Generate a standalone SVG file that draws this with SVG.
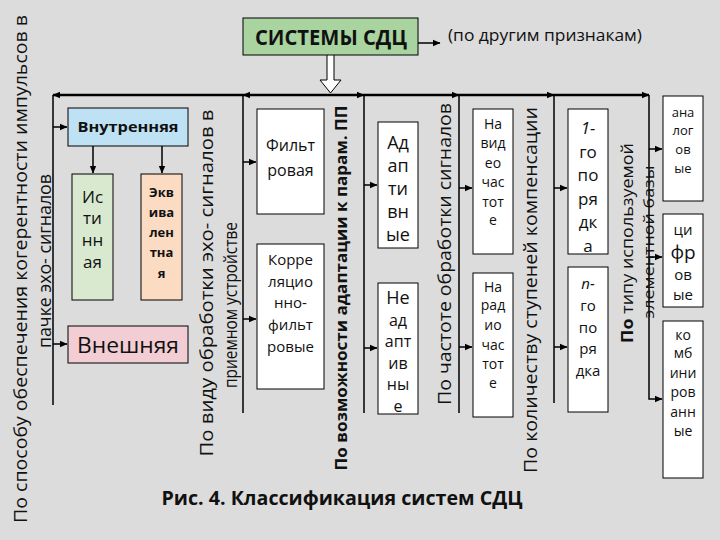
<svg xmlns="http://www.w3.org/2000/svg" width="720" height="540" viewBox="0 0 720 540">
<defs>
<marker id="ah" markerWidth="8" markerHeight="8" refX="7" refY="4" orient="auto" markerUnits="userSpaceOnUse">
<path d="M0,0.8 L7.5,4 L0,7.2 Z" fill="#000"/>
</marker>
<style>
.bx{stroke:#000;stroke-width:1}
.w{fill:#fff}
.t{font-family:"Open Sans","Noto Sans","DejaVu Sans",sans-serif;fill:#111;text-anchor:middle}
.b{font-weight:bold}
.lbl{font-family:"Open Sans","Noto Sans","DejaVu Sans",sans-serif;fill:#111;text-anchor:middle}
.ln{stroke:#000;stroke-width:1.5;fill:none}
.ar{stroke:#000;stroke-width:1.5;fill:none;marker-end:url(#ah)}
</style>
</defs>
<rect x="0" y="0" width="720" height="540" fill="#dcdcdc"/>

<g id="connectors">
<path d="M53 95 H649" stroke="#000" stroke-width="2.4" fill="none"/>
<path class="ar" d="M62 95 H53"/>
<path class="ar" d="M252 95 H243"/>
<path class="ar" d="M354 95 H364"/>
<path class="ar" d="M449 95 H459"/>
<path class="ar" d="M544 95 H554"/>
<path class="ar" d="M639 95 H649"/>
<path class="ln" d="M53 95 V405"/>
<path class="ln" d="M243 95 V413"/>
<path class="ln" d="M364 95 V413"/>
<path class="ln" d="M459 95 V413"/>
<path class="ln" d="M554 95 V403"/>
<path class="ar" d="M649 95 V399 H662"/>
<path class="ar" d="M53 127 H67"/>
<path class="ar" d="M53 344 H67"/>
<path class="ar" d="M93 146 V173"/>
<path class="ar" d="M162 146 V173"/>
<path class="ar" d="M243 162 H256"/>
<path class="ar" d="M243 319 H256"/>
<path class="ar" d="M364 185 H377"/>
<path class="ar" d="M364 348 H377"/>
<path class="ar" d="M459 188 H472"/>
<path class="ar" d="M459 347 H472"/>
<path class="ar" d="M554 188 H567"/>
<path class="ar" d="M554 347 H567"/>
<path class="ar" d="M649 149 H662"/>
<path class="ar" d="M649 257 H662"/>
<path class="ar" d="M418 43 H440"/>
<path d="M327 55 V80 H320 L330.5 93 L341 80 H334 V55" fill="#fff" stroke="#000" stroke-width="1"/>
</g>

<g id="title">
<rect class="bx" x="243" y="18" width="175" height="37" fill="#a9d4a0"/>
<text class="t b" x="331" y="45" font-size="22" textLength="152" lengthAdjust="spacingAndGlyphs">СИСТЕМЫ СДЦ</text>
</g>
<g id="other">
<text class="t" x="545" y="41" font-size="17" textLength="194" lengthAdjust="spacingAndGlyphs">(по другим признакам)</text>
</g>

<g id="label-coherence">
<text class="lbl" transform="translate(27,269) rotate(-90)" font-size="18" textLength="508" lengthAdjust="spacingAndGlyphs">По способу обеспечения когерентности импульсов в</text>
<text class="lbl" transform="translate(51,261) rotate(-90)" font-size="18" textLength="174" lengthAdjust="spacingAndGlyphs">пачке эхо- сигналов</text>
</g>
<g id="label-processing">
<text class="lbl" transform="translate(213,283) rotate(-90)" font-size="18" textLength="347" lengthAdjust="spacingAndGlyphs">По виду обработки эхо- сигналов в</text>
<text class="lbl" transform="translate(237,305) rotate(-90)" font-size="18" textLength="166" lengthAdjust="spacingAndGlyphs">приемном устройстве</text>
</g>
<g id="label-adaptation">
<text class="lbl b" transform="translate(347,288) rotate(-90)" font-size="16" textLength="365" lengthAdjust="spacingAndGlyphs">По возможности адаптации к парам. ПП</text>
</g>
<g id="label-frequency">
<text class="lbl" transform="translate(451,254) rotate(-90)" font-size="18" textLength="302" lengthAdjust="spacingAndGlyphs">По частоте обработки сигналов</text>
</g>
<g id="label-stages">
<text class="lbl" transform="translate(537,290) rotate(-90)" font-size="18" textLength="366" lengthAdjust="spacingAndGlyphs">По количеству ступеней компенсации</text>
</g>
<g id="label-base">
<text class="lbl" transform="translate(633,243) rotate(-90)" font-size="16" textLength="200" lengthAdjust="spacingAndGlyphs"><tspan font-weight="bold">По</tspan> типу используемой</text>
<text class="lbl" transform="translate(654,242) rotate(-90)" font-size="15" textLength="153" lengthAdjust="spacingAndGlyphs">элементной базы</text>
</g>

<g id="vnutr">
<rect class="bx" x="68" y="108" width="120" height="38" fill="#bfe1f4"/>
<text class="t b" x="128" y="132" font-size="15" textLength="101" lengthAdjust="spacingAndGlyphs">Внутренняя</text>
</g>
<g id="istin">
<rect class="bx" x="72" y="174" width="41" height="126" fill="#d8e9cf"/>
<text class="t" x="92.5" font-size="17"><tspan x="92.5" y="203">Ис</tspan><tspan x="92.5" y="224">ти</tspan><tspan x="92.5" y="246">нн</tspan><tspan x="92.5" y="268">ая</tspan></text>
</g>
<g id="ekviv">
<rect class="bx" x="141" y="174" width="41" height="126" fill="#fbdcc3"/>
<text class="t b" x="161.5" font-size="13"><tspan x="161.5" y="197">Экв</tspan><tspan x="161.5" y="217">ива</tspan><tspan x="161.5" y="237">лен</tspan><tspan x="161.5" y="257">тна</tspan><tspan x="161.5" y="278">я</tspan></text>
</g>
<g id="vnesh">
<rect class="bx" x="68" y="326" width="120" height="37" fill="#f2cdd3"/>
<text class="t" x="128" y="353" font-size="22" textLength="102" lengthAdjust="spacingAndGlyphs">Внешняя</text>
</g>
<g id="filtr">
<rect class="bx w" x="257" y="109" width="67" height="105"/>
<text class="t" font-size="16"><tspan x="290.5" y="151">Фильт</tspan><tspan x="290.5" y="176">ровая</tspan></text>
</g>
<g id="korr">
<rect class="bx w" x="257" y="244" width="67" height="145"/>
<text class="t" font-size="15"><tspan x="290.5" y="265">Корре</tspan><tspan x="290.5" y="287">ляцио</tspan><tspan x="290.5" y="308">нно-</tspan><tspan x="290.5" y="330">фильт</tspan><tspan x="290.5" y="352">ровые</tspan></text>
</g>
<g id="adapt">
<rect class="bx w" x="378" y="122" width="40" height="126"/>
<text class="t" font-size="18"><tspan x="398" y="149">Ад</tspan><tspan x="398" y="172">ап</tspan><tspan x="398" y="195">ти</tspan><tspan x="398" y="218">вн</tspan><tspan x="398" y="241">ые</tspan></text>
</g>
<g id="neadapt">
<rect class="bx w" x="378" y="283" width="40" height="131"/>
<text class="t" font-size="16"><tspan x="398" y="304" font-size="18">Не</tspan><tspan x="398" y="326">ад</tspan><tspan x="398" y="347">апт</tspan><tspan x="398" y="369">ив</tspan><tspan x="398" y="390">ны</tspan><tspan x="398" y="412">е</tspan></text>
</g>
<g id="video">
<rect class="bx w" x="473" y="109" width="40" height="145"/>
<text class="t" font-size="14"><tspan x="493" y="129">На</tspan><tspan x="493" y="148">вид</tspan><tspan x="493" y="168">ео</tspan><tspan x="493" y="187">час</tspan><tspan x="493" y="207">тот</tspan><tspan x="493" y="225">е</tspan></text>
</g>
<g id="radio">
<rect class="bx w" x="473" y="273" width="40" height="144"/>
<text class="t" font-size="14"><tspan x="493" y="292">На</tspan><tspan x="493" y="310">рад</tspan><tspan x="493" y="330">ио</tspan><tspan x="493" y="350">час</tspan><tspan x="493" y="369">тот</tspan><tspan x="493" y="388">е</tspan></text>
</g>
<g id="order1">
<rect class="bx w" x="568" y="109" width="40" height="145"/>
<text class="t" font-size="17"><tspan x="588" y="134" font-style="italic">1-</tspan><tspan x="588" y="158">го</tspan><tspan x="588" y="181">по</tspan><tspan x="588" y="205">ря</tspan><tspan x="588" y="228">дк</tspan><tspan x="588" y="252">а</tspan></text>
</g>
<g id="orderN">
<rect class="bx w" x="568" y="267" width="40" height="145"/>
<text class="t" font-size="15"><tspan x="588" y="289" font-style="italic">n-</tspan><tspan x="588" y="311">го</tspan><tspan x="588" y="333">по</tspan><tspan x="588" y="354">ря</tspan><tspan x="588" y="376">дка</tspan></text>
</g>
<g id="analog">
<rect class="bx w" x="663" y="96" width="40" height="105"/>
<text class="t" font-size="13"><tspan x="683" y="117">ана</tspan><tspan x="683" y="135">лог</tspan><tspan x="683" y="154">ов</tspan><tspan x="683" y="173">ые</tspan></text>
</g>
<g id="digital">
<rect class="bx w" x="663" y="214" width="40" height="93"/>
<text class="t" font-size="15"><tspan x="683" y="235">ци</tspan><tspan x="683" y="259" font-size="19">фр</tspan><tspan x="683" y="280">ов</tspan><tspan x="683" y="300">ые</tspan></text>
</g>
<g id="combined">
<rect class="bx w" x="663" y="321" width="40" height="157"/>
<text class="t" font-size="14"><tspan x="683" y="340">ко</tspan><tspan x="683" y="358">мб</tspan><tspan x="683" y="378">ини</tspan><tspan x="683" y="397">ров</tspan><tspan x="683" y="417">анн</tspan><tspan x="683" y="436">ые</tspan></text>
</g>

<g id="caption">
<text class="t b" x="342" y="505" font-size="20" textLength="361" lengthAdjust="spacingAndGlyphs">Рис. 4. Классификация систем СДЦ</text>
</g>
</svg>
